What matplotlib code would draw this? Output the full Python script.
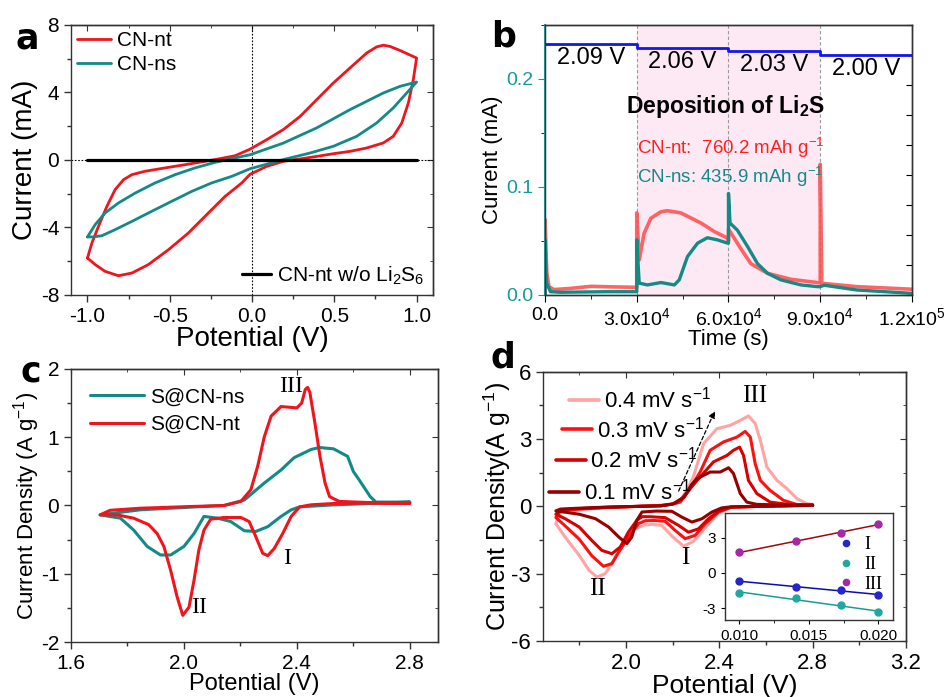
import numpy as np
import matplotlib
matplotlib.use('Agg')
import matplotlib.pyplot as plt
from matplotlib.ticker import MultipleLocator
from matplotlib.lines import Line2D

plt.rcParams['font.family'] = ['Liberation Sans', 'DejaVu Sans']
plt.rcParams['mathtext.default'] = 'regular'
plt.rcParams['axes.unicode_minus'] = False
plt.rcParams['axes.edgecolor'] = '#333333'
plt.rcParams['axes.linewidth'] = 1.0
plt.rcParams['lines.solid_joinstyle'] = 'round'
plt.rcParams['lines.solid_capstyle'] = 'round'

RED = '#f0141c'
TEAL = '#138a86'
SERIF = 'Liberation Serif'

# ── a: CV of symmetric cells ──────────────────────────────────────────────────
a_nt_v = [-1.0, -0.973, -0.933, -0.882, -0.832, -0.781, -0.73, -0.65, -0.528, -0.407, -0.285,
          -0.204, -0.103, -0.012, 0.089, 0.19, 0.292, 0.393, 0.494, 0.595, 0.697, 0.757, 0.798,
          0.838, 0.899, 1.0,
          0.98, 0.95, 0.91, 0.858, 0.798, 0.697, 0.595, 0.494, 0.393, 0.292, 0.19, 0.089,
          -0.012, -0.062, -0.164, -0.265, -0.387, -0.508, -0.63, -0.73, -0.812, -0.893,
          -0.953, -1.0]
a_nt_i = [-5.81, -4.92, -3.93, -2.75, -1.76, -1.17, -0.87, -0.67, -0.47, -0.28, -0.08,
          0.06, 0.25, 0.64, 1.20, 1.80, 2.58, 3.57, 4.56, 5.45, 6.34, 6.70, 6.80,
          6.73, 6.49, 6.04,
          4.76, 3.38, 2.19, 1.40, 1.01, 0.71, 0.51, 0.37, 0.21, 0.06, -0.08, -0.38,
          -0.85, -1.36, -2.16, -3.14, -4.33, -5.32, -6.2, -6.7, -6.86, -6.6,
          -6.2, -5.81]
a_ns_v = [-1.0, -0.953, -0.893, -0.812, -0.71, -0.589, -0.467, -0.346, -0.224, -0.103, -0.012,
          0.19, 0.393, 0.595, 0.798, 0.899, 1.0,
          0.94, 0.858, 0.757, 0.636, 0.494, 0.352, 0.19, -0.012, -0.123, -0.245, -0.366,
          -0.488, -0.609, -0.73, -0.832, -0.913, -0.964, -1.0]
a_ns_i = [-4.56, -3.83, -3.14, -2.55, -1.96, -1.36, -0.87, -0.47, -0.14, 0.12, 0.31,
          1.0, 1.9, 2.98, 3.97, 4.36, 4.62,
          3.97, 3.08, 2.19, 1.40, 0.81, 0.41, 0.02, -0.52, -0.97, -1.36, -1.86,
          -2.45, -3.04, -3.64, -4.13, -4.49, -4.56, -4.56]
a_bare_v = [-1.0, 1.0]
a_bare_i = [0.0, 0.0]

# ── b: potentiostatic Li2S deposition ─────────────────────────────────────────
b_nt_t = [0, 0, 600, 1300, 2900, 8000, 15000, 22000, 29800, 30000, 30000, 30800, 32400, 34600,
          37900, 40000, 44400, 51000, 55300, 59700, 60000, 60000, 64000, 67300, 72800, 80400,
          89000, 90000, 90000, 90500, 102000, 120000]
b_nt_i = [0.0, 0.070, 0.020, 0.0077, 0.0050, 0.0060, 0.0080, 0.0075, 0.0071, 0.0071, 0.076,
          0.0325, 0.057, 0.071, 0.077, 0.078, 0.076, 0.0666, 0.0588, 0.0526, 0.050, 0.061,
          0.043, 0.029, 0.020, 0.0145, 0.0115, 0.0112, 0.121, 0.0108, 0.0077, 0.0053]
b_ns_t = [0, 0, 500, 1800, 5000, 20000, 29800, 30000, 30000, 30800, 33500, 37900, 42300, 43900,
          46600, 49900, 53100, 56400, 59700, 60000, 60000, 60500, 62900, 66200, 69500, 72800,
          77100, 83700, 89100, 90000, 91300, 102000, 120000]
b_ns_i = [0.0, 0.051, 0.011, 0.003, 0.0025, 0.003, 0.003, 0.003, 0.051, 0.011, 0.0093, 0.0115,
          0.0093, 0.014, 0.0356, 0.048, 0.053, 0.051, 0.048, 0.048, 0.094, 0.0666, 0.060,
          0.045, 0.029, 0.020, 0.014, 0.0093, 0.0077, 0.0077, 0.009, 0.0046, 0.0015]
b_step_t = [0, 30000, 60000, 90000, 120000]
b_step_v = [2.09, 2.06, 2.03, 2.00, 2.00]
b_step_lbl = ['2.09 V', '2.06 V', '2.03 V', '2.00 V']
b_lbl_y = [0.219, 0.216, 0.213, 0.209]

# ── c: CV of Li-S cells ───────────────────────────────────────────────────────
c_nt_v = [2.80, 2.65, 2.534, 2.45, 2.41, 2.38, 2.35, 2.32, 2.297, 2.279, 2.255, 2.231, 2.202,
          2.142, 2.095, 2.071, 2.053, 2.036, 2.018, 1.996, 1.976, 1.953, 1.929, 1.905, 1.875,
          1.822, 1.763, 1.703,
          1.739, 1.846, 2.024, 2.142, 2.202, 2.237, 2.261, 2.285, 2.309, 2.344, 2.40, 2.417,
          2.43, 2.438, 2.446, 2.464, 2.482, 2.50, 2.516, 2.55, 2.65, 2.80]
c_nt_i = [0.034, 0.035, 0.03, 0.01, -0.02, -0.16, -0.41, -0.63, -0.735, -0.70, -0.46, -0.235,
          -0.176, -0.176, -0.2, -0.36, -0.65, -1.09, -1.49, -1.61, -1.34, -0.95, -0.60, -0.41,
          -0.28, -0.186, -0.137, -0.137,
          -0.07, -0.04, -0.015, 0.0, 0.06, 0.23, 0.57, 1.01, 1.31, 1.45, 1.43, 1.50,
          1.70, 1.73, 1.66, 1.21, 0.72, 0.33, 0.13, 0.06, 0.044, 0.034]
c_ns_v = [2.80, 2.534, 2.41, 2.38, 2.344, 2.297, 2.255, 2.214, 2.166, 2.119, 2.071, 2.036, 2.0,
          1.953, 1.917, 1.87, 1.822, 1.775, 1.703,
          1.846, 2.024, 2.142, 2.214, 2.285, 2.344, 2.39, 2.45, 2.48, 2.53, 2.58, 2.60, 2.62,
          2.66, 2.68, 2.80]
c_ns_i = [0.05, 0.01, -0.02, -0.063, -0.16, -0.31, -0.38, -0.37, -0.235, -0.186, -0.16, -0.41,
          -0.60, -0.725, -0.725, -0.60, -0.36, -0.186, -0.137,
          -0.063, -0.024, 0.0, 0.08, 0.33, 0.52, 0.70, 0.82, 0.85, 0.83, 0.72, 0.50, 0.38,
          0.13, 0.05, 0.05]

# ── d: CV at different scan rates ─────────────────────────────────────────────
d_rates = ['0.4', '0.3', '0.2', '0.1']
d_colors = ['#ffa3a3', '#ff1010', '#d80000', '#960000']
d_v = {
    '0.1': [2.80, 2.60, 2.45, 2.41, 2.369, 2.326, 2.283, 2.24, 2.197, 2.13, 2.069, 2.047, 2.025,
            2.004, 1.97, 1.926, 1.87, 1.80, 1.70,
            1.72, 1.80, 1.92, 2.05, 2.15, 2.207, 2.25, 2.28, 2.304, 2.361, 2.404, 2.44, 2.461,
            2.49, 2.518, 2.56, 2.636, 2.80],
    '0.2': [2.80, 2.60, 2.45, 2.397, 2.354, 2.311, 2.268, 2.226, 2.168, 2.10, 2.069, 2.047,
            2.011, 1.976, 1.94, 1.897, 1.854, 1.80, 1.74, 1.70,
            1.72, 1.80, 1.92, 2.05, 2.15, 2.20, 2.24, 2.28, 2.318, 2.375, 2.433, 2.461, 2.487,
            2.504, 2.525, 2.561, 2.618, 2.70, 2.80],
    '0.3': [2.80, 2.60, 2.45, 2.397, 2.34, 2.297, 2.254, 2.211, 2.168, 2.12, 2.083, 2.054,
            2.011, 1.97, 1.94, 1.904, 1.854, 1.80, 1.74, 1.70,
            1.72, 1.80, 1.92, 2.05, 2.15, 2.20, 2.233, 2.27, 2.318, 2.361, 2.418, 2.476, 2.511,
            2.533, 2.554, 2.576, 2.618, 2.675, 2.733, 2.80],
    '0.4': [2.80, 2.60, 2.45, 2.397, 2.34, 2.29, 2.247, 2.20, 2.154, 2.11, 2.083, 2.04, 2.011,
            1.97, 1.94, 1.911, 1.876, 1.842, 1.80, 1.74, 1.70,
            1.72, 1.80, 1.92, 2.05, 2.15, 2.20, 2.233, 2.26, 2.289, 2.333, 2.39, 2.447, 2.49,
            2.525, 2.554, 2.576, 2.604, 2.647, 2.69, 2.733, 2.776, 2.80],
}
d_i = {
    '0.1': [0.04, 0.01, -0.02, -0.07, -0.25, -0.55, -0.70, -0.48, -0.22, -0.21, -0.25, -0.62,
            -1.37, -1.66, -1.37, -0.92, -0.55, -0.35, -0.20,
            -0.12, -0.08, -0.03, 0.0, 0.02, 0.12, 0.42, 0.95, 1.23, 1.53, 1.53, 1.72, 1.46,
            0.57, 0.19, 0.09, 0.07, 0.04],
    '0.2': [0.05, 0.01, -0.03, -0.21, -0.55, -1.0, -1.15, -0.85, -0.50, -0.46, -0.46, -0.62,
            -1.14, -1.81, -2.11, -1.96, -1.52, -0.92, -0.55, -0.35,
            -0.15, -0.10, -0.04, 0.0, 0.03, 0.10, 0.35, 0.85, 1.31, 1.98, 2.27, 2.50, 2.64,
            2.27, 1.16, 0.57, 0.19, 0.08, 0.05],
    '0.3': [0.06, 0.01, -0.04, -0.25, -0.77, -1.29, -1.44, -1.07, -0.66, -0.63, -0.64, -0.77,
            -1.37, -2.03, -2.55, -2.67, -2.2, -1.46, -0.87, -0.5,
            -0.18, -0.12, -0.05, 0.0, 0.04, 0.10, 0.19, 0.7, 1.53, 2.5, 2.87, 3.09, 3.34,
            3.09, 1.9, 1.16, 0.71, 0.27, 0.08, 0.06],
    '0.4': [0.08, 0.01, -0.05, -0.30, -0.95, -1.55, -1.78, -1.35, -0.85, -0.80, -0.82, -0.99,
            -1.29, -1.96, -2.55, -3.0, -3.15, -2.85, -2.18, -1.37, -0.77,
            -0.25, -0.15, -0.06, 0.0, 0.05, 0.12, 0.27, 0.70, 1.31, 2.8, 3.46, 3.61, 3.83,
            4.03, 3.69, 2.94, 1.75, 1.16, 0.79, 0.34, 0.12, 0.09],
}

# inset: peak current vs square root of scan rate
ins_x = [0.0100, 0.0141, 0.0173, 0.0200]
ins_I = [-0.71, -1.17, -1.49, -1.86]
ins_II = [-1.69, -2.17, -2.74, -3.34]
ins_III = [1.74, 2.71, 3.43, 4.14]


def mirror(ax, xmaj, xmin, ymaj, ymin, right=True):
    ax.tick_params(which='both', direction='out', labelsize=14, color='#333333')
    ax.tick_params(which='major', length=5, width=1)
    ax.tick_params(which='minor', length=3, width=1)
    top = ax.secondary_xaxis('top')
    top.xaxis.set_major_locator(MultipleLocator(xmaj))
    top.xaxis.set_minor_locator(MultipleLocator(xmin))
    top.tick_params(which='both', direction='in', labeltop=False, color='#333333')
    top.tick_params(which='major', length=4)
    top.tick_params(which='minor', length=2.5)
    if right:
        rt = ax.secondary_yaxis('right')
        rt.yaxis.set_major_locator(MultipleLocator(ymaj))
        rt.yaxis.set_minor_locator(MultipleLocator(ymin))
        rt.tick_params(which='both', direction='in', labelright=False, color='#333333')
        rt.tick_params(which='major', length=4)
        rt.tick_params(which='minor', length=2.5)


fig = plt.figure(figsize=(9.48, 6.97), dpi=100)

# ── panel a ──
axa = fig.add_axes([0.0749, 0.5768, 0.3819, 0.3874])
axa.axhline(0, color='black', ls=(0, (1.5, 1.5)), lw=0.8)
axa.axvline(0, color='black', ls=(0, (1.5, 1.5)), lw=0.8)
la1, = axa.plot(a_nt_v, a_nt_i, color=RED, lw=2)
la2, = axa.plot(a_ns_v, a_ns_i, color=TEAL, lw=2)
la3, = axa.plot(a_bare_v, a_bare_i, color='black', lw=2.3)
axa.set_xlim(-1.1, 1.1)
axa.set_ylim(-8, 8)
axa.xaxis.set_major_locator(MultipleLocator(0.5))
axa.xaxis.set_minor_locator(MultipleLocator(0.25))
axa.yaxis.set_major_locator(MultipleLocator(4))
axa.yaxis.set_minor_locator(MultipleLocator(2))
mirror(axa, 0.5, 0.25, 4, 2)
axa.tick_params(labelsize=15)
axa.set_xlabel('Potential (V)', fontsize=20, labelpad=0)
axa.set_ylabel('Current (mA)', fontsize=20, labelpad=2)
leg1 = axa.legend([la1, la2], ['CN-nt', 'CN-ns'], loc='upper left', frameon=False,
                  fontsize=15, handlelength=1.6, borderpad=0.2, borderaxespad=0.1,
                  labelspacing=0.25, handletextpad=0.3)
axa.add_artist(leg1)
axa.legend([la3], ['CN-nt w/o Li$_2$S$_6$'], loc='lower right', frameon=False,
           fontsize=15, handlelength=1.4, borderpad=0.4, borderaxespad=0.0, handletextpad=0.3)

# ── panel b ──
axb = fig.add_axes([0.5749, 0.5768, 0.3871, 0.3874])
axb.axvspan(30000, 90000, color='#fde9f4', lw=0, zorder=0)
for xv in [30000, 60000, 90000]:
    axb.axvline(xv, color='#9a9a9a', ls=(0, (3, 2)), lw=0.8, zorder=1)
axb.plot(b_nt_t, b_nt_i, color='#ff4a4a', lw=2.6, alpha=0.85, zorder=2)
axb.plot(b_ns_t, b_ns_i, color=TEAL, lw=2.4, zorder=3)
axb.set_xlim(0, 120000)
axb.set_ylim(0, 0.25)
axb.set_xticks([0, 30000, 60000, 90000, 120000])
axb.set_xticklabels(['0.0', '3.0x10$^4$', '6.0x10$^4$', '9.0x10$^4$', '1.2x10$^5$'])
axb.xaxis.set_minor_locator(MultipleLocator(15000))
axb.yaxis.set_major_locator(MultipleLocator(0.1))
axb.yaxis.set_minor_locator(MultipleLocator(0.05))
axb.yaxis.set_major_formatter(plt.FormatStrFormatter('%.1f'))
axb.tick_params(which='both', direction='out', labelsize=14)
axb.tick_params(which='major', length=5)
axb.tick_params(which='minor', length=3)
axb.tick_params(axis='y', colors='#169a98')
axb.spines['left'].set_color('#2aa5a3')
axb.spines['left'].set_linewidth(1.5)
axb.set_xlabel('Time (s)', fontsize=16, labelpad=0)
axb.set_ylabel('Current (mA)', fontsize=16, labelpad=2)
axv = axb.twinx()
axv.plot(b_step_t, b_step_v, drawstyle='steps-post', color='#1414f0', lw=2)
axv.set_ylim(0, 2.25)
axv.yaxis.set_major_locator(MultipleLocator(0.25))
axv.tick_params(axis='y', direction='in', labelright=False, length=4)
for k, lbl in enumerate(b_step_lbl):
    axb.text((b_step_t[k] + b_step_t[k + 1]) / 2, b_lbl_y[k], lbl, ha='center', va='center',
             fontsize=17)
axb.text(0.493, 0.698, 'Deposition of Li$_2$S', transform=axb.transAxes, ha='center',
         va='center', fontsize=16.5, fontweight='bold')
axb.text(0.252, 0.543, 'CN-nt:  760.2 mAh g$^{-1}$', transform=axb.transAxes, ha='left',
         va='center', fontsize=13.5, color='#ff2020')
axb.text(0.252, 0.438, 'CN-ns: 435.9 mAh g$^{-1}$', transform=axb.transAxes, ha='left',
         va='center', fontsize=13.5, color=TEAL)

# ── panel c ──
axc = fig.add_axes([0.0749, 0.0789, 0.3871, 0.3917])
lc1, = axc.plot(c_ns_v, c_ns_i, color=TEAL, lw=2.2)
lc2, = axc.plot(c_nt_v, c_nt_i, color=RED, lw=2.2)
axc.set_xlim(1.6, 2.9)
axc.set_ylim(-2, 2)
axc.xaxis.set_major_locator(MultipleLocator(0.4))
axc.xaxis.set_minor_locator(MultipleLocator(0.2))
axc.yaxis.set_major_locator(MultipleLocator(1))
axc.yaxis.set_minor_locator(MultipleLocator(0.5))
axc.xaxis.set_major_formatter(plt.FormatStrFormatter('%.1f'))
mirror(axc, 0.4, 0.2, 1, 0.5)
axc.tick_params(labelsize=15)
axc.set_xlabel('Potential (V)', fontsize=17, labelpad=0)
axc.set_ylabel('Current Density (A g$^{-1}$)', fontsize=16, labelpad=-1)
axc.legend([lc1, lc2], ['S@CN-ns', 'S@CN-nt'], loc='upper left', frameon=False, fontsize=15,
           handlelength=2.6, borderaxespad=0.5, labelspacing=0.4, handletextpad=0.3)
axc.text(2.38, 1.75, 'III', family=SERIF, fontsize=17, ha='center', va='center')
axc.text(2.365, -0.77, 'I', family=SERIF, fontsize=17, ha='center', va='center')
axc.text(2.055, -1.49, 'II', family=SERIF, fontsize=17, ha='center', va='center')

# ── panel d ──
axd = fig.add_axes([0.5728, 0.0803, 0.3829, 0.3864])
for r, c in zip(d_rates, d_colors):
    axd.plot(d_v[r], d_i[r], color=c, lw=2.2)
axd.set_xlim(1.645, 3.2)
axd.set_ylim(-6, 6)
axd.xaxis.set_major_locator(MultipleLocator(0.4))
axd.xaxis.set_minor_locator(MultipleLocator(0.2))
axd.yaxis.set_major_locator(MultipleLocator(3))
axd.yaxis.set_minor_locator(MultipleLocator(1.5))
axd.xaxis.set_major_formatter(plt.FormatStrFormatter('%.1f'))
axd.set_xticks([2.0, 2.4, 2.8, 3.2])
mirror(axd, 0.4, 0.2, 3, 1.5)
axd.tick_params(labelsize=16)
axd.set_xlabel('Potential (V)', fontsize=19, labelpad=0)
axd.set_ylabel('Current Density(A g$^{-1}$)', fontsize=18, labelpad=-1)
leg_x = [0.072, 0.053, 0.035, 0.017]
leg_y = [0.895, 0.786, 0.672, 0.554]
for k, (r, c) in enumerate(zip(d_rates, d_colors)):
    axd.add_line(Line2D([leg_x[k], leg_x[k] + 0.083], [leg_y[k], leg_y[k]], color=c, lw=2.6,
                        transform=axd.transAxes))
    axd.text(leg_x[k] + 0.095, leg_y[k], r + ' mV s$^{-1}$', transform=axd.transAxes,
             ha='left', va='center', fontsize=16)
axd.annotate('', xy=(2.386, 4.36), xytext=(2.221, 0.57),
             arrowprops=dict(arrowstyle='-|>', ls=(0, (3, 2)), color='black', lw=0.9,
                             mutation_scale=10))
axd.text(2.55, 4.9, 'III', family=SERIF, fontsize=18, ha='center', va='center')
axd.text(2.254, -2.3, 'I', family=SERIF, fontsize=18, ha='center', va='center')
axd.text(1.88, -3.7, 'II', family=SERIF, fontsize=18, ha='center', va='center')

# inset
axi = fig.add_axes([0.7648, 0.1105, 0.1772, 0.1535])
for yv, lc, mc, nm in [(ins_I, '#0c0cb0', '#2626c8', 'I'), (ins_II, '#169e98', '#1fa8a2', 'II'),
                       (ins_III, '#9e0a0a', '#a528a8', 'III')]:
    p = np.polyfit(ins_x, yv, 1)
    xs = np.array([ins_x[0], ins_x[-1]])
    axi.plot(xs, np.polyval(p, xs), color=lc, lw=1.1)
    axi.plot(ins_x, yv, 'o', color=mc, ms=5, mec=mc, label=nm)
axi.set_xlim(0.0090, 0.02105)
axi.set_ylim(-4, 5.1)
axi.xaxis.set_major_locator(MultipleLocator(0.005))
axi.xaxis.set_minor_locator(MultipleLocator(0.0025))
axi.yaxis.set_major_locator(MultipleLocator(3))
axi.xaxis.set_major_formatter(plt.FormatStrFormatter('%.3f'))
axi.tick_params(which='both', direction='out', labelsize=11, length=3)
axi.tick_params(which='minor', length=2)
axi.legend(loc='center right', bbox_to_anchor=(1.0, 0.52), frameon=False,
           prop={'family': SERIF, 'size': 13}, handlelength=0.8, handletextpad=0.6,
           labelspacing=0.15, markerscale=0.9, borderaxespad=0.2)

# panel letters
for x, y, s in [(0.016, 0.931, 'a'), (0.518, 0.933, 'b'), (0.022, 0.452, 'c'),
                (0.517, 0.473, 'd')]:
    fig.text(x, y, s, fontsize=25, fontweight='bold', family='DejaVu Sans', va='baseline')

fig.savefig('out.png', dpi=100)
